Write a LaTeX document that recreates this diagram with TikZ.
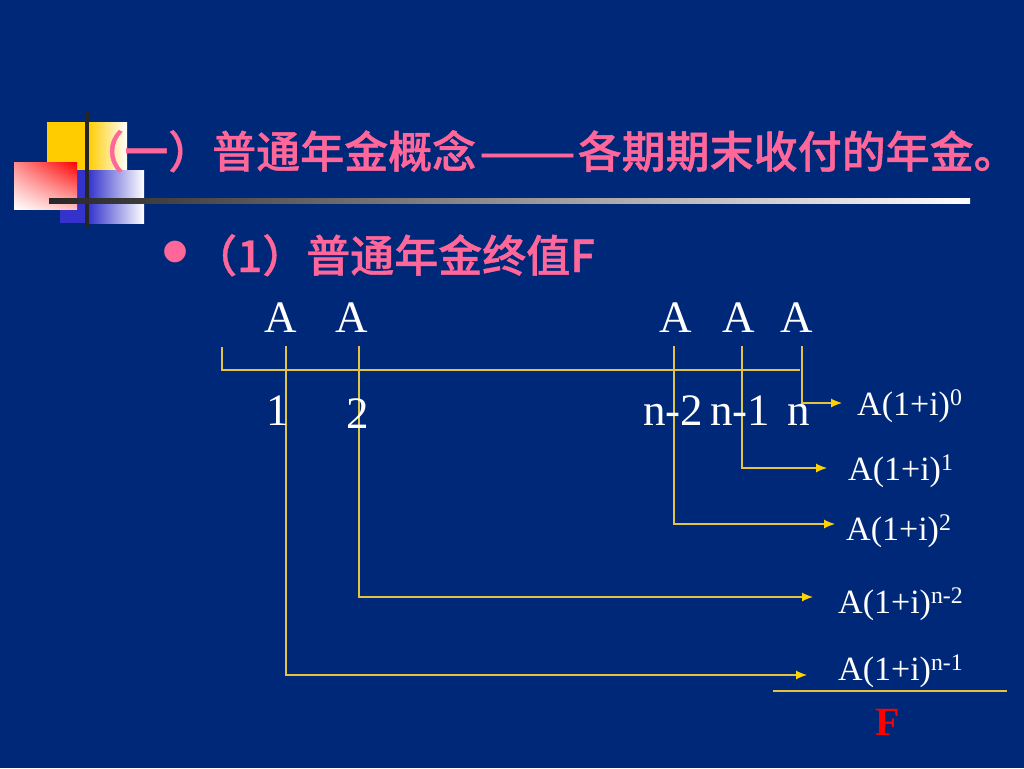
\documentclass[tikz,border=0pt]{standalone}
\usepackage{fontspec}
\setmainfont{Liberation Serif}
\newfontfamily\cjk[FakeBold=1]{Noto Sans CJK SC Medium}
\newfontfamily\bulletfont{Liberation Sans}
\usetikzlibrary{arrows.meta, shadings}
\definecolor{bgblue}{RGB}{0,40,120}
\definecolor{titlepink}{RGB}{255,102,153}
\definecolor{linegold}{RGB}{225,195,70}
\definecolor{tipgold}{RGB}{255,210,0}
\definecolor{boxyellow}{RGB}{255,204,0}
\definecolor{boxblue}{RGB}{51,51,204}
\tikzset{
  flow/.style={linegold, line width=1.2pt},
  flowarrow/.style={flow, -{Latex[length=11pt, width=9pt, color=tipgold]}},
  big/.style={white, inner sep=0, font=\fontsize{45}{50}\selectfont},
  term/.style={white, inner sep=0, anchor=base west, font=\fontsize{34}{38}\selectfont},
}

\begin{document}
\begin{tikzpicture}[x=1pt, y=-1pt]
      \useasboundingbox (0,0) rectangle (1024,768);
      \fill[bgblue] (0,0) rectangle (1024,768);
      % corner ornament
      \fill[boxyellow] (47,122) rectangle (88,175);
      \shade[left color=boxyellow, right color=white] (88,122) rectangle (127,175);
      \fill[boxblue] (60,170) rectangle (88,223);
      \shade[left color=boxblue, right color=white] (88,170) rectangle (144,223);
      \shade[upper left=red!45!white, upper right=red, lower left=white, lower right=red!25!white] (14,162) rectangle (77,209);
      \fill[black!85] (85,112) rectangle (89,228);
      \shade[left color=black!85, right color=white] (49,198.5) rectangle (970,203.5);
      % headings
      \node[anchor=base west, inner sep=0, titlepink, font=\cjk\fontsize{44}{50}\selectfont] (title) at (80,168) {（一）普通年金概念\kern3pt\scalebox{1.3}[1]{——}\kern2pt各期期末收付的年金。};
      \node[titlepink, inner sep=0, font=\bulletfont\fontsize{80}{80}\selectfont] (dot) at (176,260) {•};
      \node[anchor=base west, inner sep=0, titlepink, font=\cjk\fontsize{44}{48}\selectfont] (sub) at (193,272) {（1）普通年金终值F};
      % time line
      \foreach \i/\x in {1/286, 2/359, 3/674, 4/742, 5/802}
        \coordinate (c\i) at (\x,346);
      \coordinate (start) at (222,347);
      \coordinate (stop) at (800,370);
      \draw[flow] (start) |- (stop);
      \foreach \i/\x/\y in {1/807/675, 2/813/597, 3/835/524, 4/827/468, 5/842/403}
        \coordinate (e\i) at (\x,\y);
      \foreach \i in {1,...,5}
        \draw[flowarrow] (c\i) |- (e\i);
      % payments and periods
      \node[big, anchor=base] (a1) at (281,332) {A};
      \node[big, anchor=base] (a2) at (352,332) {A};
      \node[big, anchor=base] (a3) at (676,332) {A};
      \node[big, anchor=base] (a4) at (739,332) {A};
      \node[big, anchor=base] (a5) at (797,332) {A};
      \node[big, anchor=base] (p1) at (278,425) {1};
      \node[big, anchor=base] (p2) at (358,428) {2};
      \node[big, anchor=base west] (p3) at (643,425) {n-2};
      \node[big, anchor=base west] (p4) at (710,425) {n-1};
      \node[big, anchor=base west] (p5) at (787,425) {n};
      % compounded values
      \node[term] (f5) at (857,415) {A(1+i)\textsuperscript{0}};
      \node[term] (f4) at (848,480) {A(1+i)\textsuperscript{1}};
      \node[term] (f3) at (846,540) {A(1+i)\textsuperscript{2}};
      \node[term] (f2) at (838,613) {A(1+i)\textsuperscript{n-2}};
      \node[term] (f1) at (838,680) {A(1+i)\textsuperscript{n-1}};
      \coordinate (sumleft) at (773,691);
      \coordinate (sumright) at (1007,691);
      \draw[flow] (sumleft) -- (sumright);
      \node[anchor=base, inner sep=0, red, font=\bfseries\fontsize{40}{44}\selectfont] (F) at (888,735) {F};
\end{tikzpicture}
\end{document}
